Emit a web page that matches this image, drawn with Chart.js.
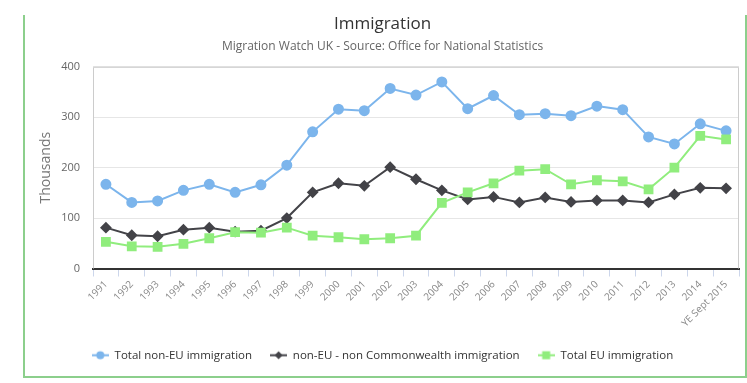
<!DOCTYPE html>
<html>
<head>
<meta charset="utf-8">
<script src="https://cdn.jsdelivr.net/npm/chart.js@4.4.1/dist/chart.umd.min.js"></script>
<style>
html, body { margin: 0; padding: 0; background: #fff; }
#wrap { position: relative; width: 747px; height: 383px; }
#frame { position: absolute; left: 23px; top: 15px; width: 724px; height: 363px; box-sizing: border-box; border: 2px solid #8ccf8c; border-top: none; }
#chart { position: absolute; left: 0; top: 0; }
</style>
</head>
<body>
<div id="wrap">
  <div id="frame"></div>
  <canvas id="chart" width="747" height="383"></canvas>
</div>
<script>
const years = ['1991', '1992', '1993', '1994', '1995', '1996', '1997', '1998', '1999', '2000',
    '2001', '2002', '2003', '2004', '2005', '2006', '2007', '2008', '2009', '2010',
    '2011', '2012', '2013', '2014', 'YE Sept 2015'];

const totalNonEU = [167, 131, 134, 155, 167, 151, 166, 205, 271, 316,
    313, 357, 344, 370, 317, 343, 305, 307, 303, 322,
    315, 261, 247, 287, 273];

const nonCommonwealth = [81, 66, 64, 77, 81, 73, 75, 100, 151, 169,
    164, 201, 177, 155, 137, 142, 131, 141, 132, 135,
    135, 131, 147, 160, 159];

const totalEU = [53, 44, 43, 49, 60, 72, 71, 81, 65, 62,
    58, 60, 65, 130, 151, 169, 194, 197, 167, 175,
    173, 157, 200, 263, 256];

const yTicks = [0, 100, 200, 300, 400];

const FONT = "'Open Sans', 'Noto Sans', sans-serif";

// little line + marker images for the legend
function legendIcon(color, shape) {
    const c = document.createElement('canvas');
    c.width = 17; c.height = 11;
    const g = c.getContext('2d');
    g.strokeStyle = color;
    g.fillStyle = color;
    g.lineWidth = 2;
    g.beginPath();
    g.moveTo(0, 5.5);
    g.lineTo(17, 5.5);
    g.stroke();
    g.beginPath();
    if (shape === 'circle') {
        g.arc(8.5, 5.5, 4, 0, Math.PI * 2);
    } else if (shape === 'diamond') {
        g.moveTo(8.5, 1.5); g.lineTo(12.5, 5.5); g.lineTo(8.5, 9.5); g.lineTo(4.5, 5.5);
        g.closePath();
    } else {
        g.rect(4.5, 1.5, 8, 8);
    }
    g.fill();
    return c;
}

const icons = [
    legendIcon('#7cb5ec', 'circle'),
    legendIcon('#434348', 'diamond'),
    legendIcon('#90ed7d', 'square')
];

// light box round the plot area
const plotFrame = {
    id: 'plotFrame',
    beforeDatasetsDraw(chart) {
        const { ctx, chartArea: a } = chart;
        ctx.save();
        ctx.strokeStyle = '#cccccc';
        ctx.lineWidth = 1;
        ctx.beginPath();
        ctx.moveTo(a.left + 0.5, a.bottom);
        ctx.lineTo(a.left + 0.5, a.top + 0.5);
        ctx.lineTo(a.right - 0.5, a.top + 0.5);
        ctx.lineTo(a.right - 0.5, a.bottom);
        ctx.stroke();
        ctx.restore();
    }
};

new Chart(document.getElementById('chart'), {
    type: 'line',
    data: {
        labels: years,
        datasets: [{
            label: 'Total non-EU immigration',
            data: totalNonEU,
            borderColor: '#7cb5ec',
            backgroundColor: '#7cb5ec',
            pointStyle: 'circle',
            pointRadius: 4.5,
            borderWidth: 2,
            order: 2
        }, {
            label: 'non-EU - non Commonwealth immigration',
            data: nonCommonwealth,
            borderColor: '#434348',
            backgroundColor: '#434348',
            pointStyle: 'rectRot',
            pointRadius: 4.5,
            borderWidth: 2,
            order: 1
        }, {
            label: 'Total EU immigration',
            data: totalEU,
            borderColor: '#90ed7d',
            backgroundColor: '#90ed7d',
            pointStyle: 'rect',
            pointRadius: 5.5,
            borderWidth: 2,
            order: 0
        }]
    },
    options: {
        responsive: false,
        animation: false,
        layout: { padding: { left: 26, right: 8, top: 0, bottom: 12 } },
        plugins: {
            title: {
                display: true,
                text: 'Immigration',
                color: '#333333',
                font: { family: FONT, size: 17, weight: 'normal' },
                padding: { top: 14, bottom: 2 }
            },
            subtitle: {
                display: true,
                text: 'Migration Watch UK - Source: Office for National Statistics',
                color: '#666666',
                font: { family: FONT, size: 12 },
                padding: { top: 3, bottom: 13 }
            },
            legend: {
                position: 'bottom',
                labels: {
                    usePointStyle: true,
                    pointStyleWidth: 17,
                    padding: 18,
                    color: '#333333',
                    font: { family: FONT, size: 11.5 },
                    sort: (a, b) => a.datasetIndex - b.datasetIndex,
                    generateLabels: function(chart) {
                        const items = Chart.defaults.plugins.legend.labels.generateLabels(chart);
                        items.forEach(item => { item.pointStyle = icons[item.datasetIndex]; });
                        return items;
                    }
                }
            },
            tooltip: { enabled: false }
        },
        scales: {
            x: {
                offset: true,
                grid: {
                    offset: true,
                    drawOnChartArea: false,
                    drawTicks: true,
                    tickLength: 8,
                    color: '#ccd6eb'
                },
                border: { color: '#333333', width: 2 },
                ticks: {
                    autoSkip: false,
                    maxRotation: 45,
                    minRotation: 45,
                    padding: 2,
                    color: '#888888',
                    font: { family: FONT, size: 10 }
                },
                afterFit: function(scale) { scale.height = 63; }
            },
            y: {
                min: 0,
                max: 400,
                afterBuildTicks: function(scale) {
                    scale.ticks = yTicks.map(v => ({ value: v }));
                },
                ticks: {
                    padding: 13,
                    color: '#666666',
                    font: { family: FONT, size: 11 }
                },
                title: {
                    display: true,
                    text: 'Thousands',
                    color: '#777777',
                    font: { family: FONT, size: 14 },
                    padding: { top: 12, bottom: 0 }
                },
                grid: { color: '#e6e6e6', drawTicks: false },
                border: { display: false },
                afterFit: function(scale) { scale.width = 67; }
            }
        }
    },
    plugins: [plotFrame]
});
</script>
</body>
</html>
